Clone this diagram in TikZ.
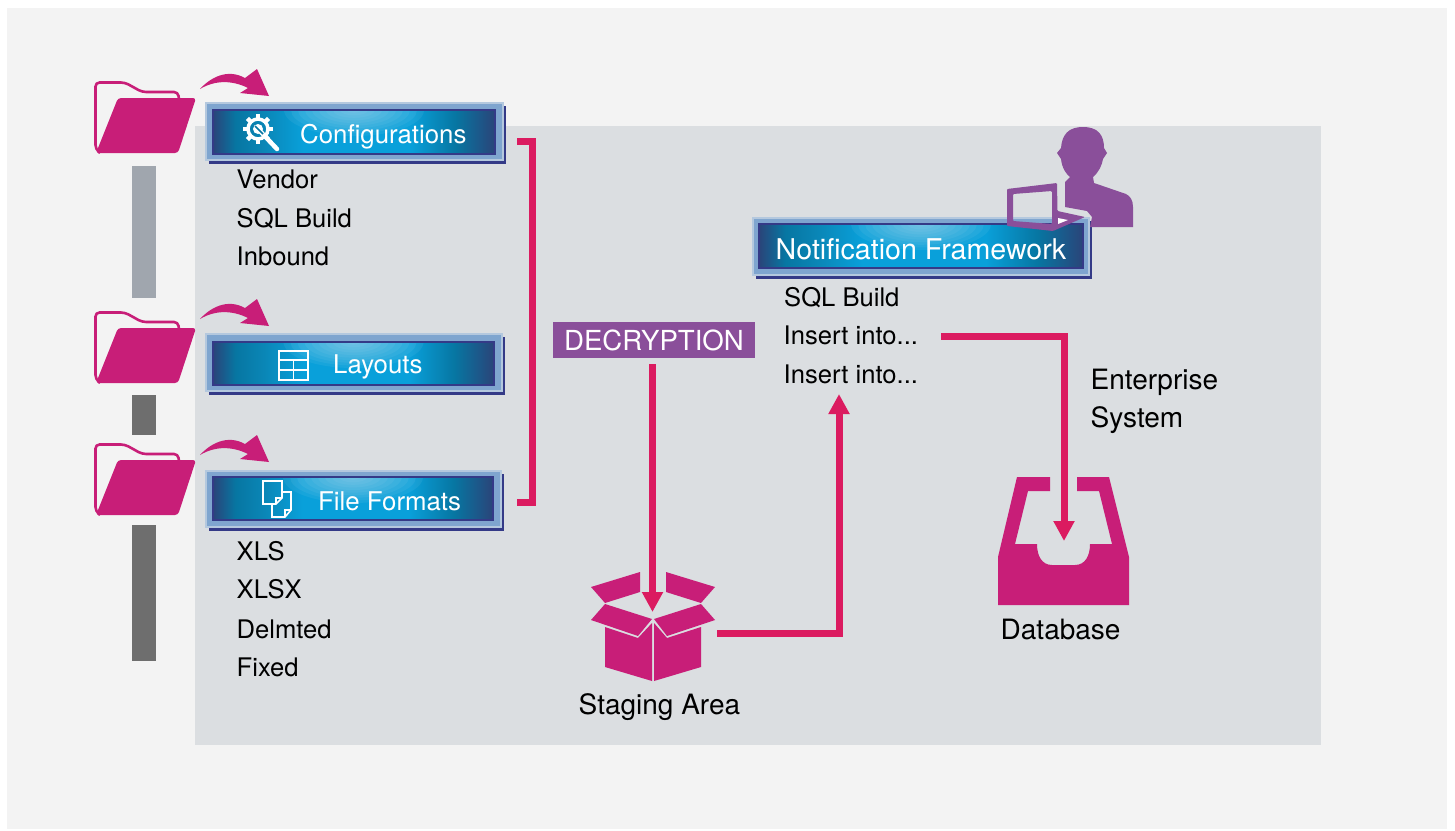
\documentclass[tikz,border=0pt]{standalone}
\usepackage{fontspec}
\setmainfont{TeX Gyre Heros}
\usetikzlibrary{arrows.meta}

\definecolor{pagegrey}{HTML}{F3F3F3}
\definecolor{panelgrey}{HTML}{DBDEE1}
\definecolor{iconpink}{HTML}{C81E78}
\definecolor{arrowpink}{HTML}{DB1B60}
\definecolor{tagpurple}{HTML}{8A4F9A}
\definecolor{framenavy}{HTML}{343A87}
\definecolor{frameblue}{HTML}{7FA5CF}
\definecolor{framehalo}{HTML}{B4C8DE}
\definecolor{baredge}{HTML}{2A4479}
\definecolor{bardeep}{HTML}{0776A2}
\definecolor{barleft}{HTML}{0A86B6}
\definecolor{barmid}{HTML}{09A0DA}
\definecolor{barglowcol}{HTML}{C4E0F2}
\definecolor{upperbar}{HTML}{A0A6AE}
\definecolor{lowerbar}{HTML}{6E6E6E}

\pgfdeclarehorizontalshading{barshade}{100bp}{
	color(0bp)=(baredge);
	color(25bp)=(baredge);
	color(29bp)=(bardeep);
	color(34bp)=(barleft);
	color(41bp)=(barmid);
	color(60bp)=(barmid);
	color(68bp)=(bardeep);
	color(75bp)=(baredge);
	color(100bp)=(baredge)}

\begin{document}
\begin{tikzpicture}[x=1pt,y=-1pt]
		
		\tikzset{bar/.style = {shading=barshade,shade,draw=framenavy,line width=1.5pt,inner sep=0pt,
				path picture={\foreach \r in {1,...,10}
					\fill[barglowcol,opacity=0.08] (path picture bounding box.north) ellipse (7*\r pt and 2.6*\r pt);}}}
		\tikzset{barlabel/.style = {anchor=base west,inner sep=0pt,text=white,font=\fontsize{25.8}{30}\selectfont}}
		\tikzset{item/.style = {anchor=base west,inner sep=0pt,text=black,font=\fontsize{25.6}{30}\selectfont}}
		\tikzset{caption/.style = {anchor=base west,inner sep=0pt,text=black,font=\fontsize{28}{32}\selectfont}}
		\tikzset{flow/.style = {draw=arrowpink,line width=7pt,-{Triangle[length=20pt,width=20pt]}}}
		\tikzset{icon/.style = {fill=iconpink}}
		\tikzset{baricon/.style = {draw=white,line width=1.6pt}}
		\tikzset{folder/.pic = {
				\draw[iconpink,line width=2.6pt,rounded corners=4pt] (85,18) -- (84,11) -- (48,11) -- (31,1.5) -- (1.5,1.5) -- (1.5,68) -- (6,72);
				\fill[icon,rounded corners=3pt] (24,17) -- (102,17) -- (84,72) -- (2,72) -- cycle;
		}}
		\tikzset{swoosh/.pic = {
				\fill[icon] (0,0) .. controls (10,-11) and (27,-21) .. (45,-11) -- (57,-20) -- (69,7) -- (40,4) -- (48,-1) .. controls (32,-9) and (15,-9) .. (0,0) -- cycle;
		}}
		
		\useasboundingbox (0,0) rectangle (1455,830);
		\fill[white] (0,0) rectangle (1455,830);
		\fill[pagegrey] (7,8) rectangle (1447,829);
		\fill[panelgrey] (195,126) rectangle (1321,745);
		
		\fill[upperbar] (132,166) rectangle (156,298);
		\fill[lowerbar] (132,395) rectangle (156,435);
		\fill[lowerbar] (132,525) rectangle (156,661);
		
		\pic at (94,81) {folder};
		\pic at (94,311) {folder};
		\pic at (94,443) {folder};
		\pic at (200,89) {swoosh};
		\pic at (200,319) {swoosh};
		\pic at (200,455) {swoosh};
		
		\foreach \xa/\ya/\xb/\yb in {206/103/503/160,206/334/502/391,206/471/501/527,753/218/1089/275}
		{
			\fill[framenavy] (\xa+3,\ya+3) rectangle (\xb+2.5,\yb+3.5);
			\draw[framehalo,line width=1.5pt,fill=frameblue] (\xa,\ya) rectangle (\xb,\yb);
		}
		
		\node[bar,minimum width=282pt,minimum height=44pt] (Configurations) at (354,132) {};
		\node[bar,minimum width=281pt,minimum height=43pt] (Layouts) at (353.5,363.5) {};
		\node[bar,minimum width=280pt,minimum height=43pt] (Formats) at (353,498.5) {};
		\node[bar,minimum width=324pt,minimum height=44pt] (Notification) at (921,246) {};
		
		\node[barlabel] (ConfigurationsText) at (300,143) {Configurations};
		\node[barlabel] (LayoutsText) at (333,373) {Layouts};
		\node[barlabel] (FormatsText) at (318,510) {File Formats};
		\node[barlabel,font=\fontsize{28.6}{32}\selectfont] (NotificationText) at (775.5,259) {Notification Framework};
		
		\foreach \a in {0,45,...,315}
		\draw[white,line width=4.5pt] (258,129) ++(\a:9pt) -- ++(\a:6pt);
		\draw[white,line width=3.5pt] (258,129) circle (10pt);
		\fill[white] (258,129) circle (5pt);
		\draw[white,line width=4.5pt,line cap=round] (259,130) -- (277,149);
		\draw[bardeep,line width=1.5pt] (255,126) -- (263,134);
		
		\draw[baricon] (279,351) rectangle (308,380);
		\draw[baricon] (279,360) -- (308,360) (279,370) -- (308,370) (293.5,360) -- (293.5,380);
		
		\draw[baricon] (263,481) -- (282,481) -- (282,498) -- (276,504) -- (263,504) -- cycle (276,504) -- (276,498) -- (282,498);
		\draw[baricon] (282,492) -- (291,492) -- (291,510) -- (285,517) -- (272,517) -- (272,504) (285,517) -- (285,510) -- (291,510);
		
		\node[item] (Vendor) at (236.5,188) {Vendor};
		\node[item] (SqlBuildA) at (236.5,227) {SQL Build};
		\node[item] (Inbound) at (236.5,265) {Inbound};
		\node[item] (Xls) at (236.5,560) {XLS};
		\node[item] (Xlsx) at (236.5,598) {XLSX};
		\node[item] (Delmted) at (236.5,638) {Delmted};
		\node[item] (Fixed) at (236.5,676) {Fixed};
		\node[item] (SqlBuildB) at (784,306) {SQL Build};
		\node[item] (InsertA) at (783.5,344) {Insert into...};
		\node[item] (InsertB) at (783.5,383) {Insert into...};
		
		\node[caption] (Enterprise) at (1090.5,389) {Enterprise};
		\node[caption] (System) at (1090.5,427) {System};
		\node[caption] (StagingText) at (578.5,714) {Staging Area};
		\node[caption] (DatabaseText) at (1000.5,639) {Database};
		
		\node[fill=tagpurple,text=white,font=\fontsize{27.6}{32}\selectfont,minimum width=202pt,minimum height=36pt,inner sep=0pt] (Decryption) at (654,340) {DECRYPTION};
		
		\fill[tagpurple] (1083,127) .. controls (1068,127) and (1062,135) .. (1061,148) -- (1057,153) -- (1061,159) .. controls (1062,168) and (1066,174) .. (1070,177) -- (1065,182) -- (1065,207) -- (1087,211) -- (1092,217) -- (1090,227) -- (1133,227) -- (1133,207) .. controls (1133,200) and (1130,196) .. (1126,194) -- (1094,183) -- (1093,177) .. controls (1099,172) and (1102,165) .. (1103,159) -- (1107,153) -- (1104,148) .. controls (1104,135) and (1098,127) .. (1083,127) -- cycle;
		\fill[tagpurple,even odd rule,rounded corners=1pt] (1007,189) -- (1057,183) -- (1057.5,211) -- (1085,217) -- (1053,231) -- (1007,226) -- cycle (1013,194) -- (1052,191) -- (1052,224) -- (1013,221) -- cycle;
		\fill[white] (1058,218) -- (1068,220) -- (1058,224) -- cycle;
		
		\fill[icon] (640,572) -- (591,587) -- (605,603) -- (640,592) -- cycle;
		\fill[icon] (666,572) -- (715,587) -- (701,603) -- (666,592) -- cycle;
		\fill[icon] (605,604) -- (591,620) -- (638,636) -- (652,619) -- cycle;
		\fill[icon] (701,604) -- (715,620) -- (667,636) -- (654,619) -- cycle;
		\fill[icon] (605,627) -- (638,638) -- (652,623) -- (652,681) -- (605,667) -- cycle;
		\fill[icon] (701,627) -- (667,638) -- (654,623) -- (654,681) -- (701,667) -- cycle;
		
		\fill[icon] (1017,477) -- (1050,477) -- (1050,491) -- (1028,491) -- (1015,544) -- (1037,544) .. controls (1037,556) and (1042,565) .. (1052,565) -- (1075,565) .. controls (1085,565) and (1090,556) .. (1090,544) -- (1112,544) -- (1099,491) -- (1077,491) -- (1077,477) -- (1109,477) -- (1129,557) -- (1129,605) -- (998,605) -- (998,557) -- cycle;
		
		\coordinate (BracketTop) at (517,141.5);
		\coordinate (BracketBottom) at (517,502.5);
		\coordinate (BoxTop) at (652.5,612);
		\coordinate (BoxSide) at (717,633);
		\coordinate (InsertEnd) at (941,336);
		\coordinate (InsertTip) at (839,394);
		\coordinate (TrayTip) at (1064,541);
		
		\draw[draw=arrowpink,line width=7pt] (BracketTop) -| (532.5,502.5) -- (BracketBottom);
		\draw[flow,shorten <=6pt] (Decryption.south -| BoxTop) -- (BoxTop);
		\draw[flow] (BoxSide) -| (InsertTip);
		\draw[flow] (InsertEnd) -| (TrayTip);
		
\end{tikzpicture}
\end{document}
